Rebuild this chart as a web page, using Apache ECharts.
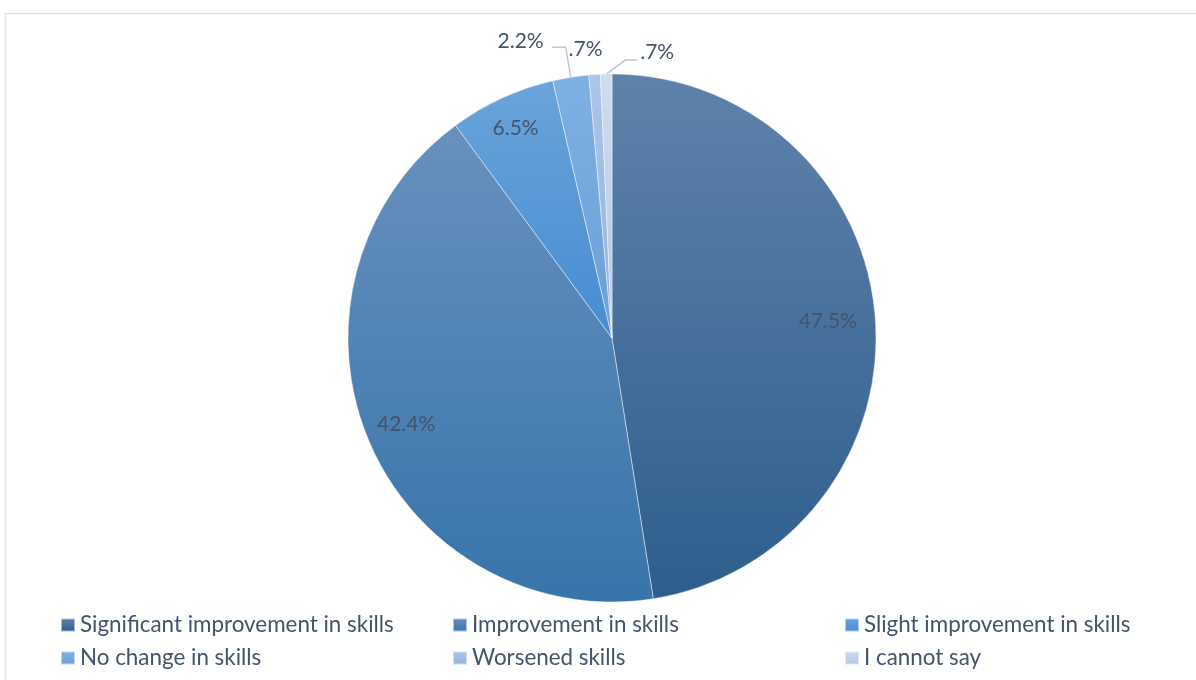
<!DOCTYPE html>
<html>
<head>
<meta charset="utf-8">
<script src="https://cdn.jsdelivr.net/npm/echarts@6/dist/echarts.min.js"></script>
<style>
  html, body { margin: 0; padding: 0; background: #ffffff; }
  #chart { width: 1196px; height: 680px; }
</style>
</head>
<body>
<div id="chart"></div>
<script>
// Self-assessed change in skills (share of respondents, %)
const categories = [
  'Significant improvement in skills',
  'Improvement in skills',
  'Slight improvement in skills',
  'No change in skills',
  'Worsened skills',
  'I cannot say'
];
const shares = [47.5, 42.4, 6.5, 2.2, 0.7, 0.7];

// Vertical gradient per slice: [top, bottom]
const sliceColors = [
  ['#5f82aa', '#2e5e8d'],
  ['#6891be', '#3774ab'],
  ['#6aa4da', '#468cd2'],
  ['#7eb0e2', '#6a9fd8'],
  ['#abc6e8', '#8fb2de'],
  ['#cfdcf0', '#b3c6e6']
];

const TEXT = '#44546A';
const FONT = 'Lato';
const CX = 612, CY = 338, R = 264;

function fmt(v) {
  // Leading zero is dropped for values under one (".7%")
  let s = v.toFixed(1);
  if (s.startsWith('0.')) s = s.slice(1);
  return s + '%';
}

function grad(c) {
  return new echarts.graphic.LinearGradient(0, 0, 0, 1, [
    { offset: 0, color: c[0] },
    { offset: 1, color: c[1] }
  ]);
}

// Small slices get outside labels with leader lines
const OUTSIDE_FROM = 3;

const pieData = categories.map((name, i) => {
  const outside = i >= OUTSIDE_FROM;
  return {
    name: name,
    value: shares[i],
    itemStyle: { color: grad(sliceColors[i]) },
    label: { position: outside ? 'outside' : 'inside' },
    labelLine: { show: outside && i !== 4 }
  };
});

// Radial placement of inside labels, as a fraction of the radius
const insideFactor = [0.82, 0.845, 0.875];

function layoutLabel(p) {
  const i = p.dataIndex;
  const lr = p.labelRect;
  if (i < OUTSIDE_FROM) {
    const lx = lr.x + lr.width / 2, ly = lr.y + lr.height / 2;
    const dx = lx - CX, dy = ly - CY;
    const d = Math.sqrt(dx * dx + dy * dy) || 1;
    const t = insideFactor[i] * R / d;
    return { x: CX + dx * t, y: CY + dy * t, align: 'center', verticalAlign: 'middle' };
  }
  const p0 = p.labelLinePoints[0];
  if (i === 3) {
    return {
      x: p0[0] - 27, y: p0[1] - 36, align: 'right', verticalAlign: 'middle',
      labelLinePoints: [[p0[0], p0[1]], [p0[0] - 5, p0[1] - 30], [p0[0] - 19, p0[1] - 30]]
    };
  }
  if (i === 4) {
    return { x: p0[0] - 9, y: p0[1] - 25, align: 'center', verticalAlign: 'middle' };
  }
  return {
    x: p0[0] + 34, y: p0[1] - 22, align: 'left', verticalAlign: 'middle',
    labelLinePoints: [[p0[0], p0[1]], [p0[0] + 19, p0[1] - 14], [p0[0] + 31, p0[1] - 14]]
  };
}

function legendBlock(names, left) {
  return {
    orient: 'vertical',
    left: left,
    top: 608,
    itemWidth: 14,
    itemHeight: 13,
    itemGap: 9,
    icon: 'rect',
    selectedMode: false,
    data: names,
    textStyle: { color: TEXT, fontFamily: FONT, fontSize: 22.4, lineHeight: 24 }
  };
}

const chart = echarts.init(document.getElementById('chart'), null, { renderer: 'canvas' });

chart.setOption({
  backgroundColor: '#ffffff',
  animation: false,
  graphic: [{
    type: 'rect',
    shape: { x: 5.5, y: 13.5, width: 1400, height: 900 },
    style: { fill: 'none', stroke: '#dde3ec', lineWidth: 1.5 },
    silent: true
  }],
  legend: [
    legendBlock([categories[0], categories[3]], 55),
    legendBlock([categories[1], categories[4]], 447),
    legendBlock([categories[2], categories[5]], 839)
  ],
  series: [{
    type: 'pie',
    center: [CX, CY],
    radius: R,
    startAngle: 90,
    clockwise: true,
    avoidLabelOverlap: false,
    itemStyle: { borderColor: 'rgba(255,255,255,0.55)', borderWidth: 0.8 },
    label: {
      show: true,
      formatter: p => fmt(p.value),
      color: TEXT,
      fontFamily: FONT,
      fontSize: 21
    },
    labelLine: {
      length: 10,
      length2: 10,
      lineStyle: { color: '#bcc8d6', width: 1.5 }
    },
    labelLayout: layoutLabel,
    emphasis: { disabled: true },
    data: pieData
  }]
});
</script>
</body>
</html>
